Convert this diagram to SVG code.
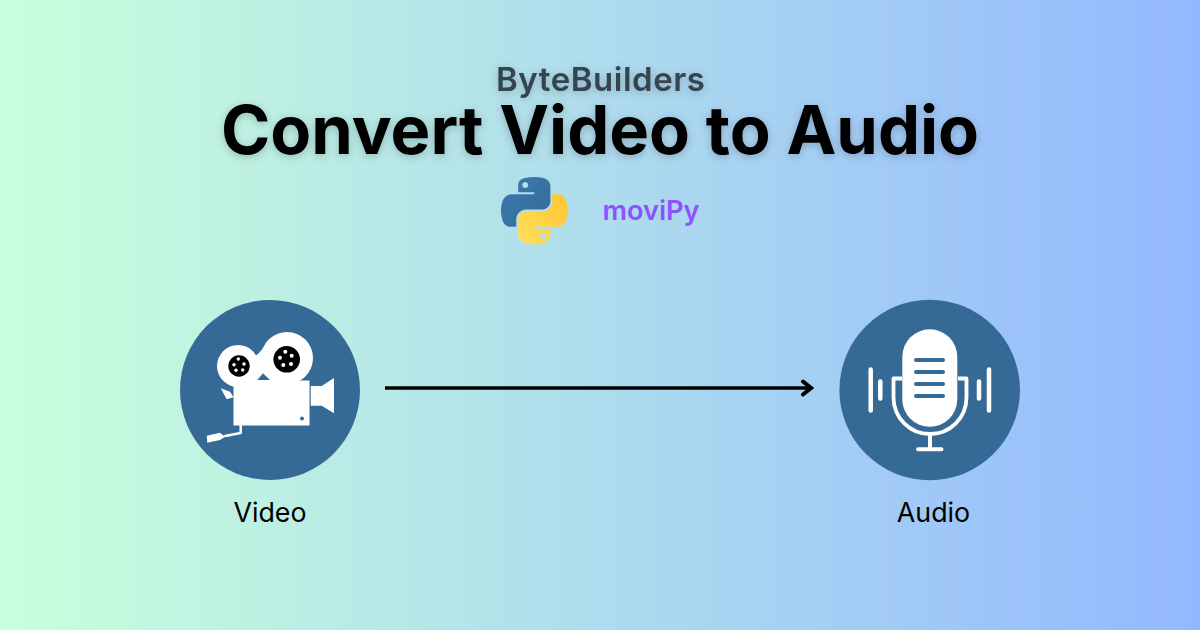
<svg xmlns="http://www.w3.org/2000/svg" width="1200" height="630" viewBox="0 0 1200 630">
<style>
text{font-family:"Inter","Noto Sans","Liberation Sans",sans-serif;text-anchor:middle}
.title{font-weight:700;font-size:66.800px;fill:#000;filter:url(#soft)}
.brand{font-weight:600;font-size:33px;fill:#36454f;filter:url(#soft)}
.lib{font-weight:600;font-size:27.200px;fill:#8c52ff}
.lab{font-size:26.800px;fill:#000}
.disc{fill:#366a96}
.w{fill:#fff}
.ws{fill:none;stroke:#fff;stroke-linecap:round;stroke-linejoin:round}
</style>
<defs>
<linearGradient id="bg" x1="0" y1="0" x2="1" y2="0">
<stop offset="0" stop-color="#c9ffdb"/>
<stop offset="1" stop-color="#94b8ff"/>
</linearGradient>
<linearGradient id="pb" x1="0" y1="0" x2="1" y2="1">
<stop offset="0" stop-color="#3a7cb0"/>
<stop offset="1" stop-color="#366a96"/>
</linearGradient>
<linearGradient id="py" x1="0" y1="1" x2="1" y2="0">
<stop offset="0" stop-color="#ffe05c"/>
<stop offset="1" stop-color="#ffc331"/>
</linearGradient>
<filter id="soft" x="-10%" y="-40%" width="120%" height="180%">
<feDropShadow dx="0" dy="2" stdDeviation="4" flood-color="#000" flood-opacity="0.22"/>
</filter>
<marker id="chev" markerUnits="userSpaceOnUse" markerWidth="16" markerHeight="20" refX="13" refY="10" orient="auto">
<path d="M5 3.500L13 10L5 16.500" fill="none" stroke="#000" stroke-width="4" stroke-linecap="round" stroke-linejoin="miter"/>
</marker>
</defs>
<rect width="1200" height="630" fill="url(#bg)"/>
<g id="header">
<text class="brand" x="600.500" y="90.500" textLength="209" lengthAdjust="spacing">ByteBuilders</text>
<text class="title" x="600" y="154">Convert Video to Audio</text>
</g>
<g id="python-logo" transform="translate(501 177) scale(.6)">
<path fill="url(#pb)" fill-rule="evenodd" d="M54.919 0c-4.584.022-8.961.413-12.813 1.095C30.76 3.099 28.7 7.295 28.7 15.032v10.219h26.813v3.406H18.638c-7.792 0-14.616 4.684-16.75 13.594-2.462 10.213-2.571 16.586 0 27.25 1.906 7.938 6.458 13.594 14.25 13.594h9.219v-12.25c0-8.85 7.657-16.656 16.75-16.656h26.781c7.455 0 13.406-6.138 13.406-13.625V15.032c0-7.266-6.13-12.725-13.406-13.937C64.282.328 59.502-.02 54.919 0zM40.419 8.219c2.77 0 5.031 2.299 5.031 5.125 0 2.816-2.262 5.094-5.031 5.094-2.779 0-5.031-2.277-5.031-5.094 0-2.826 2.252-5.125 5.031-5.125z"/>
<path fill="url(#py)" fill-rule="evenodd" d="M85.638 28.657v11.906c0 9.231-7.826 17-16.75 17H42.106c-7.336 0-13.406 6.278-13.406 13.625v25.531c0 7.266 6.319 11.54 13.406 13.625 8.487 2.496 16.626 2.947 26.781 0 6.75-1.954 13.406-5.888 13.406-13.625V86.501H55.513v-3.406h40.188c7.792 0 10.696-5.435 13.406-13.594 2.799-8.399 2.68-16.476 0-27.25-1.926-7.757-5.604-13.594-13.406-13.594zM70.575 93.313c2.779 0 5.031 2.277 5.031 5.094 0 2.826-2.252 5.125-5.031 5.125-2.77 0-5.031-2.299-5.031-5.125 0-2.816 2.262-5.094 5.031-5.094z"/>
</g>
<g id="moviPy"><text class="lib" x="651" y="220">moviPy</text></g>
<g id="connectors">
<line x1="385" y1="388" x2="811" y2="388" stroke="#000" stroke-width="3.500" marker-end="url(#chev)"/>
</g>
<g id="video">
<circle class="disc" cx="270" cy="390" r="90"/>
<circle class="w" cx="238" cy="366" r="21"/>
<circle class="w" cx="287" cy="358" r="26"/>
<path class="w" d="M258 354L266 345L290 381H233.500L238 366Z"/>
<rect class="w" x="233.500" y="380.500" width="76" height="45"/>
<path class="disc" d="M257.300 380L263 373.300L270 380Z"/>
<path class="w" d="M220.700 388.300L230 391.700L233.500 397.300L226.700 399.300Z"/>
<path class="w" d="M310.700 386H321.700L334 378V413.300L321.700 405.700H310.700Z"/>
<circle cx="239" cy="366" r="10.700"/>
<circle cx="286.700" cy="359.300" r="13.300"/>
<g class="w">
<circle cx="238.300" cy="359" r="1.700"/><circle cx="234" cy="364.700" r="1.700"/><circle cx="236" cy="370.300" r="1.700"/><circle cx="242.700" cy="370" r="1.700"/><circle cx="244" cy="364" r="1.700"/>
<circle cx="285.300" cy="351.700" r="2"/><circle cx="280" cy="357.700" r="2"/><circle cx="283.300" cy="365" r="2"/><circle cx="291" cy="364" r="2"/><circle cx="291.700" cy="355.700" r="2"/>
</g>
<circle class="disc" cx="302" cy="418.500" r="2"/>
<path class="ws" stroke-width="2.500" d="M240.700 425.500V433L225 436"/>
<path class="w" d="M206.700 435.700L220 432.700L225 436.700L220 440L207.300 442.700Z"/>
<text class="lab" x="270" y="521.500">Video</text>
</g>
<g id="audio">
<circle class="disc" cx="929.700" cy="390" r="90.300"/>
<rect class="w" x="902.300" y="329.300" width="55" height="97.500" rx="27.500"/>
<g class="ws" stroke-width="4">
<path style="stroke:#366a96" d="M916 360H943M916 372H943M916 384H943M916 396H943"/>
<path stroke-linecap="butt" stroke-width="3.800" d="M902 378.500H893.500V397.500a36.500 36.500 0 0 0 73 0V378.500H958"/>
<path d="M930 434V449.300M918 449.300H941.500"/>
<path stroke-width="4.500" d="M870.700 369.500V410.500M880.300 381.500V398.500M979 381.500V398.500M989 369.500V410.500"/>
</g>
<text class="lab" x="933.500" y="521.500">Audio</text>
</g>
</svg>
